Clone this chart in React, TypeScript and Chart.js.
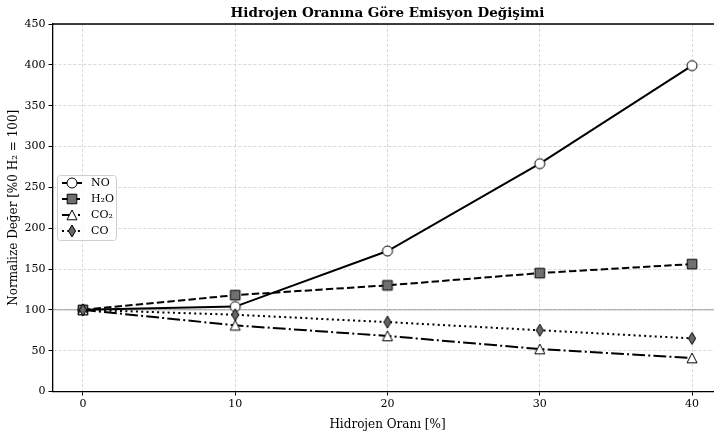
import React, { useEffect, useRef } from "react";
import { Chart, registerables } from "chart.js";

Chart.register(...registerables);

const chartTitle = "Hidrojen Oranına Göre Emisyon Değişimi";
const xAxisTitle = "Hidrojen Oranı [%]";
const yAxisTitle = "Normalize Değer [%0 H₂ = 100]";

const hydrogenRatio = [0, 10, 20, 30, 40];
const xTickValues = [0, 10, 20, 30, 40];
const noValues = [100, 104, 172, 279, 399];
const h2oValues = [100, 118, 130, 145, 156];
const co2Values = [100, 81, 68, 52, 41];
const coValues = [100, 94, 85, 75, 65];
const seriesLabels = ["NO", "H₂O", "CO₂", "CO"];

const FONT = '"DejaVu Serif", serif';
const LW = 2;

type MarkerKind = "circle" | "square" | "triangle" | "thinDiamond";

function drawMarker(ctx: CanvasRenderingContext2D, kind: MarkerKind, cx: number, cy: number) {
  ctx.save();
  ctx.lineWidth = 1;
  ctx.strokeStyle = "#000";
  ctx.setLineDash([]);
  ctx.beginPath();
  if (kind === "circle") {
    ctx.arc(cx, cy, 5, 0, Math.PI * 2);
    ctx.fillStyle = "#fff";
  } else if (kind === "square") {
    ctx.rect(cx - 4.8, cy - 4.8, 9.6, 9.6);
    ctx.fillStyle = "#707070";
  } else if (kind === "triangle") {
    ctx.moveTo(cx, cy - 5);
    ctx.lineTo(cx - 5, cy + 4.8);
    ctx.lineTo(cx + 5, cy + 4.8);
    ctx.closePath();
    ctx.fillStyle = "#fff";
  } else {
    ctx.moveTo(cx, cy - 6);
    ctx.lineTo(cx + 3.6, cy);
    ctx.lineTo(cx, cy + 6);
    ctx.lineTo(cx - 3.6, cy);
    ctx.closePath();
    ctx.fillStyle = "#666";
  }
  ctx.fill();
  ctx.stroke();
  ctx.restore();
}

function makeMarkerCanvas(kind: MarkerKind) {
  const c = document.createElement("canvas");
  c.width = 16;
  c.height = 16;
  const ctx = c.getContext("2d")!;
  drawMarker(ctx, kind, 8, 8);
  return c;
}

const markerKinds: MarkerKind[] = ["circle", "square", "triangle", "thinDiamond"];
const dashes: number[][] = [[], [7.4, 3.2], [12.8, 3.2, 2, 3.2], [2, 3.3]];

export default function App() {
  const canvasRef = useRef<HTMLCanvasElement | null>(null);

  useEffect(() => {
    if (!canvasRef.current) return;
    const markers = markerKinds.map(makeMarkerCanvas);
    const seriesValues = [noValues, h2oValues, co2Values, coValues];

    const decorPlugin = {
      id: "decor",
      beforeDatasetsDraw(chart: any) {
        const { ctx, chartArea, scales } = chart;
        const y = scales.y.getPixelForValue(100);
        ctx.save();
        ctx.strokeStyle = "rgba(128,128,128,0.5)";
        ctx.lineWidth = 1.5;
        ctx.beginPath();
        ctx.moveTo(chartArea.left, y);
        ctx.lineTo(chartArea.right, y);
        ctx.stroke();
        ctx.restore();
      },
      afterDraw(chart: any) {
        const { ctx, chartArea } = chart;
        ctx.save();
        // top spine
        ctx.strokeStyle = "#000";
        ctx.lineWidth = 1.3;
        ctx.beginPath();
        ctx.moveTo(chartArea.left, chartArea.top);
        ctx.lineTo(chartArea.right, chartArea.top);
        ctx.stroke();
        // title
        ctx.fillStyle = "#000";
        ctx.font = `bold 13.5px ${FONT}`;
        ctx.textAlign = "center";
        ctx.textBaseline = "middle";
        ctx.fillText(chartTitle, (chartArea.left + chartArea.right) / 2, 13);
        // legend
        const bx = 57.5, by = 175.5, bw = 59, bh = 65, r = 3;
        ctx.beginPath();
        ctx.moveTo(bx + r, by);
        ctx.lineTo(bx + bw - r, by);
        ctx.arcTo(bx + bw, by, bx + bw, by + r, r);
        ctx.lineTo(bx + bw, by + bh - r);
        ctx.arcTo(bx + bw, by + bh, bx + bw - r, by + bh, r);
        ctx.lineTo(bx + r, by + bh);
        ctx.arcTo(bx, by + bh, bx, by + bh - r, r);
        ctx.lineTo(bx, by + r);
        ctx.arcTo(bx, by, bx + r, by, r);
        ctx.closePath();
        ctx.fillStyle = "rgba(255,255,255,0.8)";
        ctx.fill();
        ctx.strokeStyle = "#d0d0d0";
        ctx.lineWidth = 1;
        ctx.stroke();
        seriesLabels.forEach((label, i) => {
          const yy = 183 + i * 16;
          ctx.strokeStyle = "#000";
          ctx.lineWidth = LW;
          ctx.setLineDash(dashes[i]);
          ctx.beginPath();
          ctx.moveTo(62, yy);
          ctx.lineTo(82, yy);
          ctx.stroke();
          ctx.setLineDash([]);
          drawMarker(ctx, markerKinds[i], 72, yy);
          ctx.fillStyle = "#000";
          ctx.font = `11px ${FONT}`;
          ctx.textAlign = "left";
          ctx.textBaseline = "middle";
          ctx.fillText(label, 91, yy);
        });
        ctx.restore();
      },
    };

    const chart = new Chart(canvasRef.current, {
      type: "line",
      data: {
        datasets: seriesLabels.map((label, i) => ({
          label,
          data: hydrogenRatio.map((x, j) => ({ x, y: seriesValues[i][j] })),
          borderColor: "#000",
          backgroundColor: "#000",
          borderWidth: LW,
          borderDash: dashes[i],
          pointStyle: markers[i] as any,
          pointRadius: 5,
          pointHoverRadius: 5,
          tension: 0,
          fill: false,
          order: 4 - i,
        })),
      },
      options: {
        animation: false,
        responsive: false,
        devicePixelRatio: 1,
        layout: { padding: { left: 0, top: 24, right: 7.5, bottom: 0 } },
        plugins: {
          legend: { display: false },
          title: { display: false },
          tooltip: { enabled: false },
        },
        scales: {
          x: {
            type: "linear",
            min: -2,
            max: 42,
            afterBuildTicks: (scale: any) => {
              scale.ticks = xTickValues.map((v) => ({ value: v }));
            },
            afterFit: (scale: any) => {
              scale.height = 40.5;
            },
            ticks: {
              autoSkip: false,
              color: "#000",
              padding: 2,
              maxRotation: 0,
              font: { family: FONT, size: 11 },
            },
            grid: {
              color: "#cfcfcf",
              lineWidth: 0.8,
              tickColor: "#000",
              tickLength: 4,
              tickWidth: 1,
              tickBorderDash: [],
            },
            border: { display: true, color: "#000", width: 1.3, dash: [3, 2] },
            title: {
              display: true,
              text: xAxisTitle,
              color: "#000",
              font: { family: FONT, size: 12 },
              padding: { top: 6, bottom: 0 },
            },
          },
          y: {
            type: "linear",
            min: 0,
            max: 450,
            afterFit: (scale: any) => {
              scale.width = 52.5;
            },
            ticks: {
              stepSize: 50,
              color: "#000",
              padding: 3,
              font: { family: FONT, size: 11 },
            },
            grid: {
              color: "#cfcfcf",
              lineWidth: 0.8,
              tickColor: "#000",
              tickLength: 4,
              tickWidth: 1,
              tickBorderDash: [],
            },
            border: { display: true, color: "#000", width: 1.3, dash: [3, 2] },
            title: {
              display: true,
              text: yAxisTitle,
              color: "#000",
              font: { family: FONT, size: 12 },
              padding: { top: 6.5, bottom: 0 },
            },
          },
        },
      },
      plugins: [decorPlugin],
    });
    return () => chart.destroy();
  }, []);

  return (
    <div style={{ position: "fixed", left: 0, top: 0, width: 714, height: 432, overflow: "hidden", background: "#fff" }}>
      <canvas ref={canvasRef} width={730} height={432} style={{ width: 730, height: 432, display: "block" }} />
    </div>
  );
}
